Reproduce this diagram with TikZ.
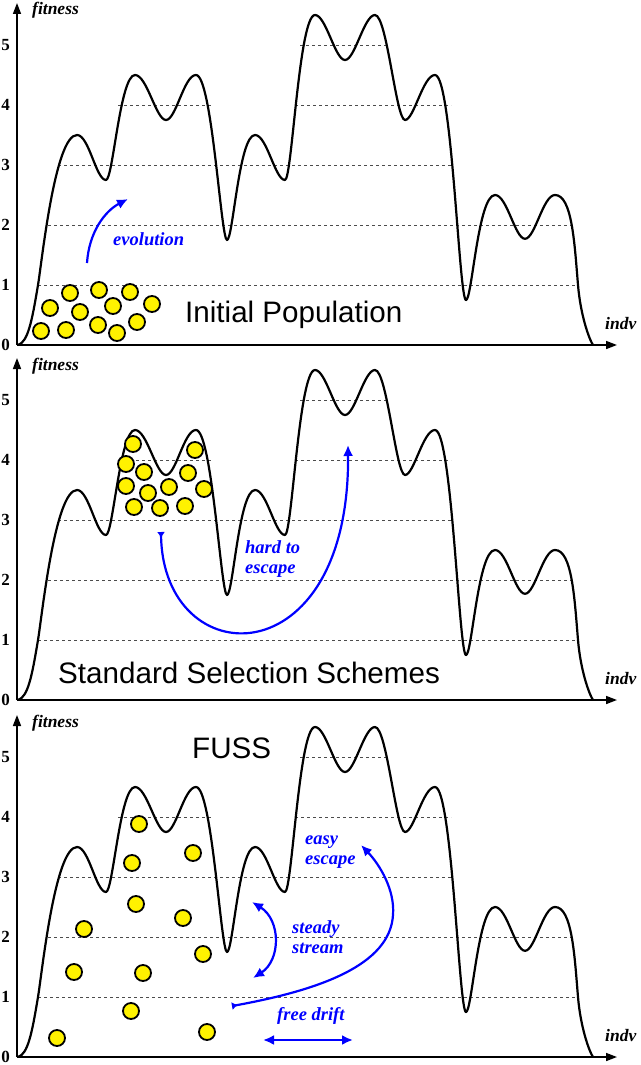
\documentclass[tikz,border=0pt]{standalone}
\usepackage{fontspec}
\setmainfont{Liberation Serif}
\newfontfamily\arialfont{Liberation Sans}
\usetikzlibrary{arrows.meta}
\tikzset{
  landscape/.style={line width=2.2pt, black, line join=round},
  level/.style={line width=0.9pt, gray!60!black, dash pattern=on 3pt off 3pt},
  axisline/.style={line width=1.6pt, -{Triangle[length=11pt,width=8pt]}},
  tick/.style={anchor=east, inner sep=0pt, font=\bfseries\fontsize{17}{17}\selectfont},
  axlabel/.style={anchor=base west, inner sep=0pt, font=\bfseries\itshape\fontsize{17.5}{17.5}\selectfont},
  ball/.style={circle, draw=black, fill=yellow, line width=1.8pt, minimum size=16pt, inner sep=0pt},
  title/.style={anchor=base west, inner sep=0pt, font=\arialfont\fontsize{29.6}{30}\selectfont},
  bluetext/.style={blue, inner sep=0pt, align=left, font=\bfseries\itshape\fontsize{18.5}{20}\selectfont},
  flow/.style={blue, line width=2.2pt, -{Latex[length=11pt,width=10pt]}},
  flowtail/.style={blue, line width=2.2pt, {Latex[reversed,length=6pt,width=8pt]}-{Latex[length=11pt,width=10pt]}},
  flowboth/.style={blue, line width=2.2pt, {Latex[length=11pt,width=10pt]}-{Latex[length=11pt,width=10pt]}}
}
\newcommand\fitpanel[2]{%
\begin{scope}[shift={(0,#1)}]
  \begin{scope}[y=60pt]
    \draw[level] (38,1) -- (578,1);
    \draw[level] (48,2) -- (573,2);
    \draw[level] (58,3) -- (453,3);
    \draw[level] (118,4) -- (212,4);
    \draw[level] (295,4) -- (451,4);
    \draw[level] (300,5) -- (387,5);
    \draw[landscape] (18,0)
      .. controls (28,0.05) and (32,0.4) .. (38,1.0)
      .. controls (42,1.4) and (55,3.5) .. (77,3.5)
      .. controls +(12,0) and +(-10,0) .. (106,2.75)
      .. controls +(7,0) and +(-15,0) .. (135,4.5)
      .. controls +(12,0) and +(-10,0) .. (166,3.75)
      .. controls +(10,0) and +(-12,0) .. (196,4.5)
      .. controls +(16,0) and +(-6,0) .. (227,1.75)
      .. controls +(6,0) and +(-16,0) .. (255,3.5)
      .. controls +(12,0) and +(-10,0) .. (285,2.75)
      .. controls +(7,0) and +(-16,0) .. (315,5.5)
      .. controls +(11,0) and +(-10,0) .. (345,4.75)
      .. controls +(10,0) and +(-11,0) .. (375,5.5)
      .. controls +(12,0) and +(-9,0) .. (405,3.75)
      .. controls +(9,0) and +(-12,0) .. (435,4.5)
      .. controls +(17,0) and +(-7,0) .. (466,0.75)
      .. controls +(6,0) and +(-17,0) .. (495,2.5)
      .. controls +(12,0) and +(-10,0) .. (525,1.77)
      .. controls +(10,0) and +(-12,0) .. (555,2.5)
      .. controls (572,2.5) and (574.5,1.7) .. (578,1.0)
      .. controls (580.5,0.5) and (589,0.1) .. (593,0);
  \end{scope}
  \coordinate (orig#2) at (17,0);
  \coordinate (ytop#2) at (17,-342);
  \coordinate (xend#2) at (617,0);
  \draw[axisline] (orig#2) -- (ytop#2);
  \draw[axisline] (orig#2) -- (xend#2);
  \foreach \k in {0,...,5} \node[tick] (t#2\k) at (10,-60*\k) {\k};
  \node[axlabel] (fit#2) at (32,-330) {fitness};
  \node[axlabel] (ind#2) at (605,-16) {indv};
\end{scope}}

\begin{document}
\begin{tikzpicture}[x=1pt,y=-1pt]
\useasboundingbox (0,0) rectangle (640,1065);
\fitpanel{345}{a}
\fitpanel{700}{b}
\fitpanel{1057}{c}

% ---- panel 1: Initial Population
\foreach \p [count=\i] in {(41,331),(50,308),(70,293),(80,312),(66,330),(99,290),(113,306),(98,325),(117,333),(130,292),(137,322),(152,304)}
  \node[ball] (ia\i) at \p {};
\node[title] (initpop) at (185,322) {Initial Population};
\coordinate (evS) at (87,263);
\coordinate (evE) at (128,199);
\draw[flow] (evS) .. controls (89,232) and (105,211) .. (evE);
\node[bluetext, anchor=base west] (evo) at (113,245) {evolution};

% ---- panel 2: Standard Selection Schemes
\foreach \p [count=\i] in {(133,444),(126,464),(144,472),(126,486),(148,493),(134,507),(160,508),(169,487),(188,473),(195,450),(204,489),(185,506)}
  \node[ball] (sb\i) at \p {};
\node[title] (stdsel) at (58,683) {Standard Selection Schemes};
\coordinate (hS) at (161,532);
\coordinate (hE) at (348,445);
\draw[flowtail] (hS) .. controls (163,675) and (350,680) .. (hE);
\node[bluetext, anchor=north west] (hard) at (245,540) {hard to\\escape};

% ---- panel 3: FUSS
\foreach \p [count=\i] in {(57,1038),(74,972),(84,929),(131,1011),(143,973),(136,904),(132,863),(139,824),(193,853),(183,918),(203,954),(207,1032)}
  \node[ball] (fc\i) at \p {};
\node[title] (fuss) at (192,758) {FUSS};
\coordinate (ssA) at (252,902);
\coordinate (ssB) at (253,978);
\draw[flowboth] (ssA) .. controls (281,920) and (281,960) .. (ssB);
\node[bluetext, anchor=north west] (steady) at (292,920) {steady\\stream};
\coordinate (eS) at (232,1006);
\coordinate (eM) at (393,915);
\coordinate (eE) at (361,845);
\draw[flowtail] (eS) .. controls (320,990) and (390,965) .. (eM) .. controls (395,890) and (380,865) .. (eE);
\node[bluetext, anchor=north west] (easy) at (305,836) {easy\\escape};
\coordinate (fdA) at (263,1040);
\coordinate (fdB) at (353,1040);
\draw[flowboth] (fdA) -- (fdB);
\node[bluetext, anchor=base west] (drift) at (277,1020) {free drift};
\end{tikzpicture}
\end{document}
